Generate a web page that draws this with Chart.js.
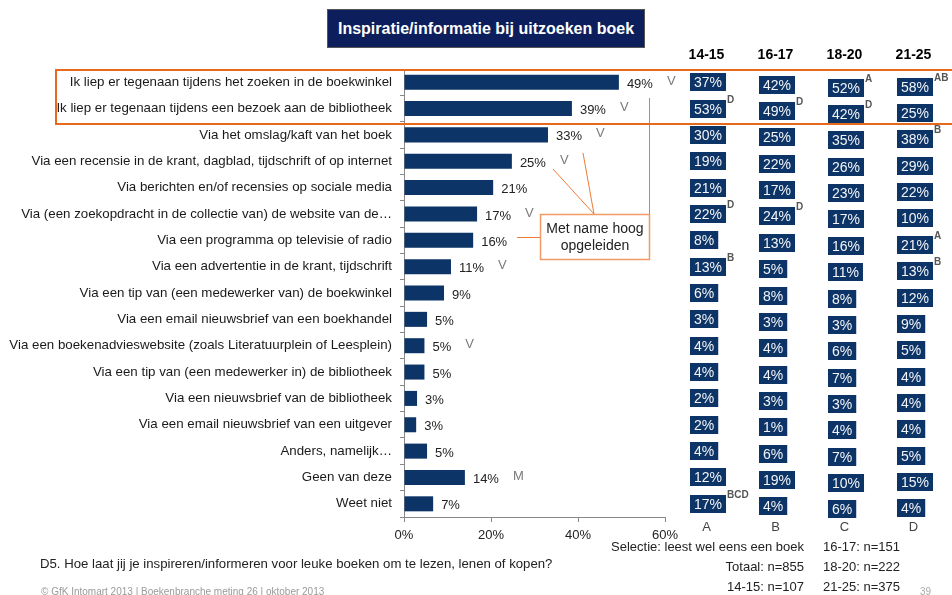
<!DOCTYPE html>
<html>
<head>
<meta charset="utf-8">
<title>Inspiratie/informatie bij uitzoeken boek</title>
<script src="https://cdn.jsdelivr.net/npm/chart.js@4.4.0/dist/chart.umd.min.js"></script>
<style>
  body { margin: 0; background: #fff; font-family: 'Liberation Sans', Arial, sans-serif; color: #222; }
  #page { position: relative; width: 952px; height: 595px; overflow: hidden; }
  canvas { position: absolute; top: 0; }
  #main { left: 0; }
  #table { left: 672px; }
  .title {
    position: absolute; left: 327px; top: 9px; width: 316px; height: 37px;
    background: #0c1f5c; border: 1px solid #555; color: #fff;
    font-weight: bold; font-size: 16px; line-height: 37px; text-align: center;
  }
  .highlight {
    position: absolute; left: 55px; top: 69px; width: 1000px; height: 52px;
    border: 2px solid #e8691e; pointer-events: none;
  }
  .txt { position: absolute; white-space: nowrap; }
  .question { left: 40px; top: 556px; font-size: 13.2px; }
  .copy { left: 41px; top: 586px; font-size: 10px; color: #9a9a9a; }
  .sel { right: 148px; top: 537px; font-size: 13px; line-height: 20px; text-align: right; }
  .nn { left: 823px; top: 537px; font-size: 13px; line-height: 20px; }
  .pagenr { left: 920px; top: 586px; font-size: 10px; color: #aaa; }
</style>
</head>
<body>
<div id="page">
  <canvas id="main" width="952" height="595"></canvas>
  <canvas id="table" width="280" height="595"></canvas>
  <div class="title">Inspiratie/informatie bij uitzoeken boek</div>
  <div class="highlight"></div>
  <div class="txt question">D5. Hoe laat jij je inspireren/informeren voor leuke boeken om te lezen, lenen of kopen?</div>
  <div class="txt copy">© GfK Intomart 2013 | Boekenbranche meting 26 | oktober 2013</div>
  <div class="txt sel">Selectie: leest wel eens een boek<br>Totaal: n=855<br>14-15: n=107</div>
  <div class="txt nn">16-17: n=151<br>18-20: n=222<br>21-25: n=375</div>
  <div class="txt pagenr">39</div>
</div>

<script>
// data
const categories = [
  'Ik liep er tegenaan tijdens het zoeken in de boekwinkel',
  'Ik liep er tegenaan tijdens een bezoek aan de bibliotheek',
  'Via het omslag/kaft van het boek',
  'Via een recensie in de krant, dagblad, tijdschrift of op internet',
  'Via berichten en/of recensies op sociale media',
  'Via (een zoekopdracht in de collectie van) de website van de…',
  'Via een programma op televisie of radio',
  'Via een advertentie in de krant, tijdschrift',
  'Via een tip van (een medewerker van) de boekwinkel',
  'Via een email nieuwsbrief van een boekhandel',
  'Via een boekenadvieswebsite (zoals Literatuurplein of Leesplein)',
  'Via een tip van (een medewerker in) de bibliotheek',
  'Via een nieuwsbrief van de bibliotheek',
  'Via een email nieuwsbrief van een uitgever',
  'Anders, namelijk…',
  'Geen van deze',
  'Weet niet'
];
const totals = [49.4, 38.6, 33.1, 24.8, 20.5, 16.8, 15.9, 10.8, 9.2, 5.3, 4.7, 4.7, 3.0, 2.8, 5.3, 14.0, 6.7];
const markers = ['V', 'V', 'V', 'V', '', 'V', '', 'V', '', '', 'V', '', '', '', '', 'M', ''];

const groups = ['14-15', '16-17', '18-20', '21-25'];
const groupLetters = ['A', 'B', 'C', 'D'];
const age1415 = [37, 53, 30, 19, 21, 22, 8, 13, 6, 3, 4, 4, 2, 2, 4, 12, 17];
const age1617 = [42, 49, 25, 22, 17, 24, 13, 5, 8, 3, 4, 4, 3, 1, 6, 19, 4];
const age1820 = [52, 42, 35, 26, 23, 17, 16, 11, 8, 3, 6, 7, 3, 4, 7, 10, 6];
const age2125 = [58, 25, 38, 29, 22, 10, 21, 13, 12, 9, 5, 4, 4, 4, 5, 15, 4];
const sig1415 = ['', 'D', '', '', '', 'D', '', 'B', '', '', '', '', '', '', '', '', 'BCD'];
const sig1617 = ['', 'D', '', '', '', 'D', '', '', '', '', '', '', '', '', '', '', ''];
const sig1820 = ['A', 'D', '', '', '', '', '', '', '', '', '', '', '', '', '', '', ''];
const sig2125 = ['AB', '', 'B', '', '', '', 'A', 'B', '', '', '', '', '', '', '', '', ''];

const groupValues = [age1415, age1617, age1820, age2125];
const groupSig = [sig1415, sig1617, sig1820, sig2125];

const FONT = "'Liberation Sans', Arial, sans-serif";
const NAVY = '#0d3466';
const ORANGE = '#ee7a36';
Chart.defaults.font.family = FONT;

// percentages + V/M markers behind the bars
const valueLabels = {
  id: 'valueLabels',
  afterDatasetsDraw(chart) {
    const ctx = chart.ctx;
    const meta = chart.getDatasetMeta(0);
    ctx.save();
    ctx.font = '13px ' + FONT;
    ctx.textBaseline = 'middle';
    ctx.textAlign = 'left';
    meta.data.forEach((bar, i) => {
      const txt = Math.round(totals[i]) + '%';
      const lx = bar.x + 8;
      ctx.fillStyle = '#222';
      ctx.fillText(txt, lx, bar.y + 2);
      if (markers[i]) {
        ctx.fillStyle = '#7a7a7a';
        ctx.fillText(markers[i], lx + ctx.measureText(txt).width + 14, bar.y - 1);
      }
    });
    ctx.restore();
  }
};

// callout "Met name hoog opgeleiden"
const callout = {
  id: 'callout',
  afterDraw(chart) {
    const ctx = chart.ctx;
    ctx.save();
    ctx.strokeStyle = ORANGE;
    ctx.lineWidth = 1;
    ctx.beginPath();
    ctx.moveTo(649.5, 98); ctx.lineTo(649.5, 214);
    ctx.moveTo(583, 153); ctx.lineTo(594, 214);
    ctx.moveTo(553, 169); ctx.lineTo(594, 214);
    ctx.moveTo(540, 237.5); ctx.lineTo(517, 237.5);
    ctx.stroke();
    ctx.fillStyle = '#fff';
    ctx.fillRect(540, 214, 109, 45);
    ctx.strokeStyle = '#f29a66';
    ctx.lineWidth = 1.5;
    ctx.strokeRect(540.5, 214.5, 109, 45);
    ctx.fillStyle = '#222';
    ctx.font = '14px ' + FONT;
    ctx.textAlign = 'center';
    ctx.textBaseline = 'middle';
    ctx.fillText('Met name hoog', 595, 229);
    ctx.fillText('opgeleiden', 595, 246);
    ctx.restore();
  }
};

new Chart(document.getElementById('main'), {
  type: 'bar',
  data: {
    labels: categories,
    datasets: [{
      data: totals,
      backgroundColor: NAVY,
      barPercentage: 0.57,
      categoryPercentage: 1
    }]
  },
  options: {
    indexAxis: 'y',
    responsive: false,
    animation: false,
    layout: { padding: { top: 69, right: 287, left: 0, bottom: 0 } },
    plugins: { legend: { display: false }, tooltip: { enabled: false } },
    scales: {
      x: {
        min: 0, max: 60,
        ticks: { stepSize: 20, callback: v => v + '%', font: { size: 13 }, color: '#222', padding: 6 },
        grid: { drawOnChartArea: false, tickLength: 5, color: '#888' },
        border: { color: '#888' },
        afterFit: s => { s.height = 78; }
      },
      y: {
        ticks: { font: { size: 13.3 }, color: '#1a1a1a', padding: 8, autoSkip: false },
        grid: { offset: true, drawOnChartArea: false, tickLength: 4, color: '#888' },
        border: { color: '#888' },
        afterFit: s => { s.width = 404; }
      }
    }
  },
  plugins: [valueLabels, callout]
});

// right-hand table with age groups
const colDy = [0, 2.5, 5.5, 4.5];
const tableCells = {
  id: 'tableCells',
  afterDraw(chart) {
    const ctx = chart.ctx;
    const x = chart.scales.x, y = chart.scales.y;
    ctx.save();
    ctx.textBaseline = 'middle';
    ctx.textAlign = 'left';
    groupValues.forEach((col, j) => {
      const cx = x.getPixelForValue(j);
      col.forEach((v, i) => {
        const txt = v + '%';
        ctx.font = '14px ' + FONT;
        const w = ctx.measureText(txt).width + 8;
        const left = Math.round(cx - 17);
        const top = Math.round(y.getPixelForValue(i) + colDy[j] - 9);
        ctx.fillStyle = NAVY;
        ctx.fillRect(left, top, w, 18);
        ctx.fillStyle = '#f2f4f8';
        ctx.fillText(txt, left + 4, top + 10);
        const s = groupSig[j][i];
        if (s) {
          ctx.font = 'bold 10px ' + FONT;
          ctx.fillStyle = '#555';
          ctx.fillText(s, left + w + 1, top);
        }
      });
    });
    ctx.restore();
  }
};

new Chart(document.getElementById('table'), {
  type: 'bar',
  data: { labels: categories, datasets: [] },
  options: {
    responsive: false,
    animation: false,
    layout: { padding: { top: 0, right: 4, left: 0, bottom: 0 } },
    plugins: { legend: { display: false }, tooltip: { enabled: false } },
    scales: {
      x: {
        type: 'category', labels: groupLetters, offset: true,
        ticks: { font: { size: 13 }, color: '#444', padding: 3 },
        grid: { display: false, drawTicks: false },
        border: { display: false },
        afterFit: s => { s.height = 78; }
      },
      xTop: {
        type: 'category', labels: groups, position: 'top', offset: true,
        ticks: { font: { size: 14, weight: 'bold' }, color: '#000', padding: 5 },
        grid: { display: false, drawTicks: false },
        border: { display: false },
        afterFit: s => { s.height = 69; }
      },
      y: {
        type: 'category', labels: categories, offset: true, display: false
      }
    }
  },
  plugins: [tableCells]
});
</script>
</body>
</html>
